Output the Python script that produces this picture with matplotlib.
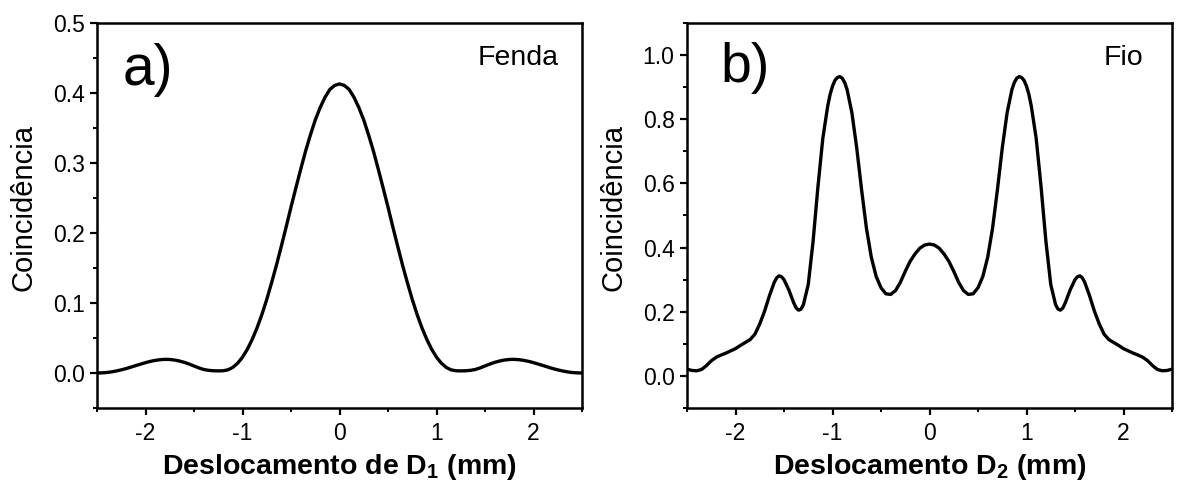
import matplotlib
matplotlib.use("Agg")
import matplotlib.pyplot as plt
from matplotlib.ticker import MultipleLocator

# ---- data ----
x_a = [-2.50, -2.45, -2.40, -2.35, -2.30, -2.25, -2.20, -2.15, -2.10, -2.05,
       -2.00, -1.95, -1.90, -1.85, -1.80, -1.75, -1.70, -1.65, -1.60, -1.55,
       -1.50, -1.45, -1.40, -1.35, -1.30, -1.25, -1.20, -1.15, -1.10, -1.05,
       -1.00, -0.95, -0.90, -0.85, -0.80, -0.75, -0.70, -0.65, -0.60, -0.55,
       -0.50, -0.45, -0.40, -0.35, -0.30, -0.25, -0.20, -0.15, -0.10, -0.05,
       0.00,
       0.05, 0.10, 0.15, 0.20, 0.25, 0.30, 0.35, 0.40, 0.45, 0.50,
       0.55, 0.60, 0.65, 0.70, 0.75, 0.80, 0.85, 0.90, 0.95, 1.00,
       1.05, 1.10, 1.15, 1.20, 1.25, 1.30, 1.35, 1.40, 1.45, 1.50,
       1.55, 1.60, 1.65, 1.70, 1.75, 1.80, 1.85, 1.90, 1.95, 2.00,
       2.05, 2.10, 2.15, 2.20, 2.25, 2.30, 2.35, 2.40, 2.45, 2.50]
y_a = [0.0000, 0.0002, 0.0007, 0.0016, 0.0029, 0.0045, 0.0063, 0.0084, 0.0106, 0.0127,
       0.0148, 0.0166, 0.0180, 0.0190, 0.0195, 0.0193, 0.0185, 0.0171, 0.0152, 0.0128,
       0.0100, 0.0073, 0.0050, 0.0038, 0.0032, 0.0030, 0.0032, 0.0045, 0.0080, 0.0140,
       0.0226, 0.0339, 0.0480, 0.0645, 0.0836, 0.1051, 0.1290, 0.1541, 0.1810, 0.2086,
       0.2370, 0.2643, 0.2910, 0.3169, 0.3400, 0.3614, 0.3790, 0.3937, 0.4050, 0.4108,
       0.4130,
       0.4108, 0.4050, 0.3937, 0.3790, 0.3614, 0.3400, 0.3169, 0.2910, 0.2643, 0.2370,
       0.2086, 0.1810, 0.1541, 0.1290, 0.1051, 0.0836, 0.0645, 0.0480, 0.0339, 0.0226,
       0.0140, 0.0080, 0.0045, 0.0032, 0.0030, 0.0032, 0.0038, 0.0050, 0.0073, 0.0100,
       0.0128, 0.0152, 0.0171, 0.0185, 0.0193, 0.0195, 0.0190, 0.0180, 0.0166, 0.0148,
       0.0127, 0.0106, 0.0084, 0.0063, 0.0045, 0.0029, 0.0016, 0.0007, 0.0002, 0.0000]

x_b = [-2.50, -2.45, -2.40, -2.35, -2.30, -2.25, -2.20, -2.15, -2.10, -2.05,
       -2.00, -1.95, -1.90, -1.85, -1.80, -1.75, -1.70, -1.65, -1.60, -1.575,
       -1.55, -1.525, -1.50, -1.45, -1.40, -1.375, -1.35, -1.325, -1.30, -1.25,
       -1.20, -1.15, -1.10, -1.05, -1.025, -1.00, -0.975, -0.95, -0.925, -0.90,
       -0.875, -0.85, -0.80, -0.75, -0.70, -0.65, -0.60, -0.55, -0.50, -0.45,
       -0.40, -0.35, -0.30, -0.25, -0.20, -0.15, -0.10, -0.05,
       0.00,
       0.05, 0.10, 0.15, 0.20, 0.25, 0.30, 0.35, 0.40,
       0.45, 0.50, 0.55, 0.60, 0.65, 0.70, 0.75, 0.80, 0.85, 0.875,
       0.90, 0.925, 0.95, 0.975, 1.00, 1.025, 1.05, 1.10, 1.15, 1.20,
       1.25, 1.30, 1.325, 1.35, 1.375, 1.40, 1.45, 1.50, 1.525, 1.55,
       1.575, 1.60, 1.65, 1.70, 1.75, 1.80, 1.85, 1.90, 1.95, 2.00,
       2.05, 2.10, 2.15, 2.20, 2.25, 2.30, 2.35, 2.40, 2.45, 2.50]
y_b = [0.021, 0.017, 0.016, 0.020, 0.032, 0.047, 0.058, 0.065, 0.071, 0.078,
       0.085, 0.095, 0.104, 0.113, 0.130, 0.162, 0.202, 0.250, 0.292, 0.306,
       0.312, 0.309, 0.300, 0.268, 0.228, 0.212, 0.205, 0.208, 0.222, 0.285,
       0.420, 0.590, 0.740, 0.840, 0.877, 0.903, 0.921, 0.930, 0.933, 0.928,
       0.915, 0.893, 0.820, 0.710, 0.580, 0.460, 0.370, 0.310, 0.275, 0.256,
       0.254, 0.266, 0.292, 0.326, 0.357, 0.380, 0.398, 0.408,
       0.411,
       0.408, 0.398, 0.380, 0.357, 0.326, 0.292, 0.266, 0.254,
       0.256, 0.275, 0.310, 0.370, 0.460, 0.580, 0.710, 0.820, 0.893, 0.915,
       0.928, 0.933, 0.930, 0.921, 0.903, 0.877, 0.840, 0.740, 0.590, 0.420,
       0.285, 0.222, 0.208, 0.205, 0.212, 0.228, 0.268, 0.300, 0.309, 0.312,
       0.306, 0.292, 0.250, 0.202, 0.162, 0.130, 0.113, 0.104, 0.095, 0.085,
       0.078, 0.071, 0.065, 0.058, 0.047, 0.032, 0.020, 0.016, 0.017, 0.021]

xticks = [-2, -1, 0, 1, 2]
xticklabels = ["-2", "-1", "0", "1", "2"]
yticks_a = [0.0, 0.1, 0.2, 0.3, 0.4, 0.5]
yticks_b = [0.0, 0.2, 0.4, 0.6, 0.8, 1.0]

plt.rcParams['font.family'] = ['Liberation Sans', 'DejaVu Sans']
plt.rcParams['mathtext.fontset'] = 'custom'
plt.rcParams['mathtext.rm'] = 'Liberation Sans'
plt.rcParams['mathtext.bf'] = 'Liberation Sans:bold'

W, H = 1181, 487
fig = plt.figure(figsize=(W/100, H/100), dpi=100)
ax1 = fig.add_axes([97/W, 1-408/H, (582-97)/W, (408-23)/H])
ax2 = fig.add_axes([687/W, 1-408/H, (1172-687)/W, (408-23)/H])

def style(ax, yticks, ylim, yminor):
    ax.set_xlim(-2.5, 2.5)
    ax.set_ylim(*ylim)
    ax.set_xticks(xticks)
    ax.set_xticklabels(xticklabels)
    ax.set_yticks(yticks)
    ax.set_yticklabels([f"{v:.1f}" for v in yticks])
    ax.xaxis.set_minor_locator(MultipleLocator(0.5))
    ax.yaxis.set_minor_locator(MultipleLocator(yminor))
    for s in ax.spines.values():
        s.set_linewidth(1.8)
    ax.tick_params(which='major', direction='out', length=5, width=1.6, labelsize=16.5, pad=4,
                   top=False, right=False)
    ax.tick_params(axis='x', which='major', pad=5)
    ax.tick_params(which='minor', direction='out', length=2.7, width=1.4, top=False, right=False)
    ax.set_ylabel("Coincidência", fontsize=21)
    ax.yaxis.set_label_coords(-0.122, 0.52)

ax1.plot(x_a, y_a, color='black', lw=2.4)
style(ax1, yticks_a, (-0.05, 0.5), 0.05)
ax1.set_xlabel("Deslocamento de D$_\\mathbf{1}$ (mm)", fontsize=20.5, fontweight='bold', labelpad=5)
ax1.text(0.052, 0.839, "a)", transform=ax1.transAxes, fontsize=41, va='baseline', ha='left')
ax1.text(0.951, 0.891, "Fenda", transform=ax1.transAxes, fontsize=20.5, va='baseline', ha='right')

ax2.plot(x_b, y_b, color='black', lw=2.4)
style(ax2, yticks_b, (-0.1, 1.1), 0.1)
ax2.set_xlabel("Deslocamento D$_\\mathbf{2}$ (mm)", fontsize=20.5, fontweight='bold', labelpad=5)
ax2.text(0.068, 0.847, "b)", transform=ax2.transAxes, fontsize=40, va='baseline', ha='left')
ax2.text(0.942, 0.891, "Fio", transform=ax2.transAxes, fontsize=20.5, va='baseline', ha='right')

fig.savefig("out.png", dpi=100)
